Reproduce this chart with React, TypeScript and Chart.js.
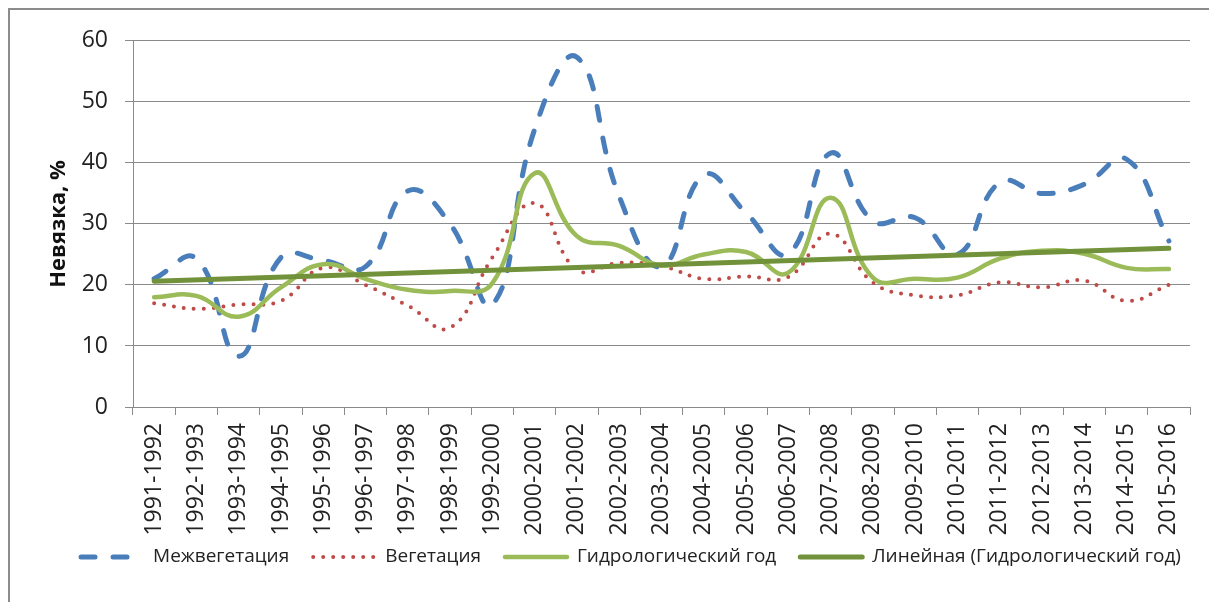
import React, { useEffect, useRef } from "react";
import { Chart, registerables } from "chart.js";

Chart.register(...registerables);

const categories = [
  "1991-1992", "1992-1993", "1993-1994", "1994-1995", "1995-1996",
  "1996-1997", "1997-1998", "1998-1999", "1999-2000", "2000-2001",
  "2001-2002", "2002-2003", "2003-2004", "2004-2005", "2005-2006",
  "2006-2007", "2007-2008", "2008-2009", "2009-2010", "2010-2011",
  "2011-2012", "2012-2013", "2013-2014", "2014-2015", "2015-2016",
];

const mezhvegetatsiya = [
  21, 24.3, 8.3, 24.5, 24, 23, 35.4, 30, 16.8, 45.5,
  57.3, 34.5, 23, 38, 31.8, 25.1, 41.6, 30.5, 31, 25,
  36.8, 35, 36.5, 40.6, 27.2,
];

const vegetatsiya = [
  17, 16.1, 16.8, 17.4, 22.8, 20, 16.6, 13, 24.5, 33.4,
  22.5, 23.6, 23.1, 21, 21.4, 21.3, 28.4, 20.4, 18.3, 18.3,
  20.4, 19.6, 20.7, 17.4, 20,
];

const gidroGod = [
  18, 18.2, 14.8, 19.6, 23.4, 21, 19.2, 19, 20.3, 38.3,
  28, 26.4, 23.2, 25, 25.4, 22, 34.3, 21.2, 21, 21.2,
  24.3, 25.6, 25.1, 22.8, 22.6,
];

// Linear trend of "Гидрологический год": values at first and last category
const trendStart = 20.6;
const trendEnd = 26.0;

const seriesLabels = [
  "Межвегетация",
  "Вегетация",
  "Гидрологический год",
  "Линейная (Гидрологический год)",
];

const yMin = 0;
const yMax = 60;
const yStep = 10;

const FONT = "'Open Sans', sans-serif";
const GRID = "#8a8a8a";
const TEXT = "#222222";

const legendPlugin = {
  id: "excelLegend",
  afterDraw(chart: any) {
    const ctx = chart.ctx as CanvasRenderingContext2D;
    const fontSize = 19;
    const sampleW = 66;
    const gap = 8;
    const spacing = 22;
    const centerX = 620;
    const y = 547;
    ctx.save();
    ctx.font = `${fontSize}px ${FONT}`;
    ctx.textBaseline = "middle";
    ctx.textAlign = "left";
    const items = chart.data.datasets.map((ds: any) => ({
      label: ds.label as string,
      color: ds.borderColor as string,
      width: ds.borderWidth as number,
      dash: (ds.borderDash || []) as number[],
      cap: (ds.borderCapStyle || "butt") as CanvasLineCap,
      textW: ctx.measureText(ds.label).width,
    }));
    const total =
      items.reduce((s: number, it: any) => s + sampleW + gap + it.textW, 0) +
      spacing * (items.length - 1);
    let x = centerX - total / 2;
    for (const it of items) {
      ctx.beginPath();
      ctx.strokeStyle = it.color;
      ctx.lineWidth = it.width;
      ctx.setLineDash(it.dash);
      ctx.lineCap = it.cap;
      ctx.moveTo(x + 2, y);
      ctx.lineTo(x + sampleW - 2, y);
      ctx.stroke();
      ctx.setLineDash([]);
      ctx.fillStyle = TEXT;
      ctx.fillText(it.label, x + sampleW + gap, y);
      x += sampleW + gap + it.textW + spacing;
    }
    ctx.restore();
  },
};

export default function App() {
  const canvasRef = useRef<HTMLCanvasElement | null>(null);

  useEffect(() => {
    if (!canvasRef.current) return;
    const trend = categories.map((_, i) =>
      i === 0 ? trendStart : i === categories.length - 1 ? trendEnd : null
    );
    const chart = new Chart(canvasRef.current, {
      type: "line",
      data: {
        labels: categories,
        datasets: [
          {
            label: seriesLabels[0],
            data: mezhvegetatsiya,
            borderColor: "#4A7EBB",
            borderWidth: 5,
            borderDash: [14, 18],
            borderCapStyle: "round",
            tension: 0.45,
            pointRadius: 0,
            fill: false,
            order: 4,
          },
          {
            label: seriesLabels[1],
            data: vegetatsiya,
            borderColor: "#BE4B48",
            borderWidth: 4,
            borderDash: [0, 10],
            borderCapStyle: "round",
            tension: 0.45,
            pointRadius: 0,
            fill: false,
            order: 3,
          },
          {
            label: seriesLabels[2],
            data: gidroGod,
            borderColor: "#9BBB59",
            borderWidth: 4.5,
            borderCapStyle: "round",
            tension: 0.45,
            pointRadius: 0,
            fill: false,
            order: 2,
          },
          {
            label: seriesLabels[3],
            data: trend,
            borderColor: "#71923A",
            borderWidth: 5,
            borderCapStyle: "round",
            tension: 0,
            spanGaps: true,
            pointRadius: 0,
            fill: false,
            order: 1,
          },
        ],
      },
      options: {
        responsive: false,
        animation: false,
        devicePixelRatio: 1,
        layout: { padding: { top: 29, right: 19, left: 0, bottom: 65 } },
        plugins: {
          legend: { display: false },
          tooltip: { enabled: false },
        },
        scales: {
          x: {
            type: "category",
            offset: true,
            grid: {
              offset: true,
              drawOnChartArea: false,
              drawTicks: true,
              tickLength: 8,
              color: GRID,
            },
            border: { color: GRID, width: 1 },
            ticks: {
              autoSkip: false,
              minRotation: 90,
              maxRotation: 90,
              padding: 8,
              color: TEXT,
              font: { family: FONT, size: 23 },
            },
            afterFit: (scale: any) => {
              scale.height = 130;
            },
          },
          y: {
            min: yMin,
            max: yMax,
            ticks: {
              stepSize: yStep,
              padding: 17,
              color: TEXT,
              font: { family: FONT, size: 23 },
            },
            grid: { color: GRID, tickLength: 8, lineWidth: 1 },
            border: { color: GRID, width: 1 },
            title: {
              display: true,
              text: "Невязка, %",
              color: "#111111",
              font: { family: FONT, size: 22, weight: "bold" },
              padding: { top: 36, bottom: 0 },
            },
            afterFit: (scale: any) => {
              scale.width = 123;
            },
          },
        },
      },
      plugins: [legendPlugin],
    } as any);
    return () => chart.destroy();
  }, []);

  return (
    <div
      style={{
        width: 1201,
        height: 594,
        boxSizing: "border-box",
        borderLeft: "2px solid #8c8c8c",
        borderTop: "2px solid #8c8c8c",
        background: "#ffffff",
      }}
    >
      <canvas ref={canvasRef} width={1199} height={592} style={{ display: "block" }} />
    </div>
  );
}
